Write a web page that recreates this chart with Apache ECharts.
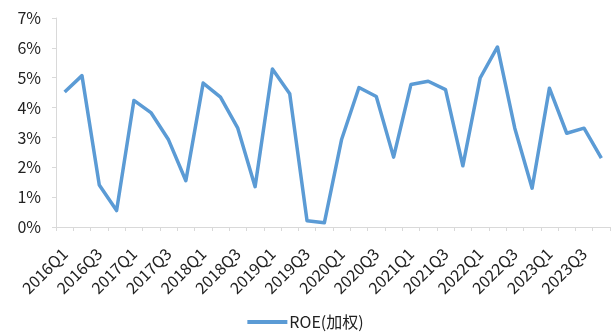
<!DOCTYPE html>
<html>
<head>
<meta charset="utf-8">
<script src="https://cdn.jsdelivr.net/npm/echarts@6/dist/echarts.min.js"></script>
<style>
  html, body { margin: 0; padding: 0; background: #fff; }
  #chart { width: 611px; height: 336px; }
</style>
</head>
<body>
<div id="chart"></div>
<script>
// Quarterly weighted ROE, 2016Q1 – 2023Q4 (percent)
const quarters = [
  '2016Q1','2016Q2','2016Q3','2016Q4',
  '2017Q1','2017Q2','2017Q3','2017Q4',
  '2018Q1','2018Q2','2018Q3','2018Q4',
  '2019Q1','2019Q2','2019Q3','2019Q4',
  '2020Q1','2020Q2','2020Q3','2020Q4',
  '2021Q1','2021Q2','2021Q3','2021Q4',
  '2022Q1','2022Q2','2022Q3','2022Q4',
  '2023Q1','2023Q2','2023Q3','2023Q4'
];
const roeWeighted = [
  4.52, 5.07, 1.41, 0.55,
  4.24, 3.82, 2.92, 1.55,
  4.82, 4.35, 3.31, 1.35,
  5.29, 4.46, 0.21, 0.14,
  2.94, 4.67, 4.37, 2.34,
  4.77, 4.88, 4.60, 2.05,
  4.99, 6.03, 3.31, 1.30,
  4.65, 3.14, 3.31, 2.31
];
const seriesName = 'ROE(加权)';

const font = '"Noto Sans CJK SC", "Noto Sans", sans-serif';
const chart = echarts.init(document.getElementById('chart'));
chart.setOption({
  animation: false,
  grid: { left: 56, right: 1, top: 18, bottom: 109 },
  xAxis: {
    type: 'category',
    data: quarters,
    boundaryGap: true,
    axisLine: { lineStyle: { color: '#d9d9d9', width: 1 } },
    axisTick: { show: true, interval: 0, length: 4, lineStyle: { color: '#d9d9d9' } },
    axisLabel: {
      interval: 1,
      rotate: 45,
      margin: 24,
      color: '#222',
      fontSize: 16,
      fontFamily: font
    },
    splitLine: { show: false }
  },
  yAxis: {
    type: 'value',
    min: 0,
    max: 7,
    interval: 1,
    axisLine: { show: true, lineStyle: { color: '#d9d9d9', width: 1 } },
    axisTick: { show: true, length: 4, lineStyle: { color: '#d9d9d9' } },
    axisLabel: {
      formatter: '{value}%',
      color: '#222',
      fontSize: 16,
      margin: 15,
      fontFamily: font
    },
    splitLine: { show: false }
  },
  legend: {
    bottom: 1,
    left: 'center',
    itemWidth: 40,
    itemHeight: 4,
    itemGap: 10,
    icon: 'rect',
    textStyle: { color: '#222', fontSize: 16, padding: [0, 0, 0, -3], fontFamily: font },
    data: [seriesName]
  },
  series: [{
    name: seriesName,
    type: 'line',
    data: roeWeighted,
    symbol: 'none',
    lineStyle: { color: '#5b9bd5', width: 3.5, join: 'round' },
    itemStyle: { color: '#5b9bd5' }
  }]
});
</script>
</body>
</html>
